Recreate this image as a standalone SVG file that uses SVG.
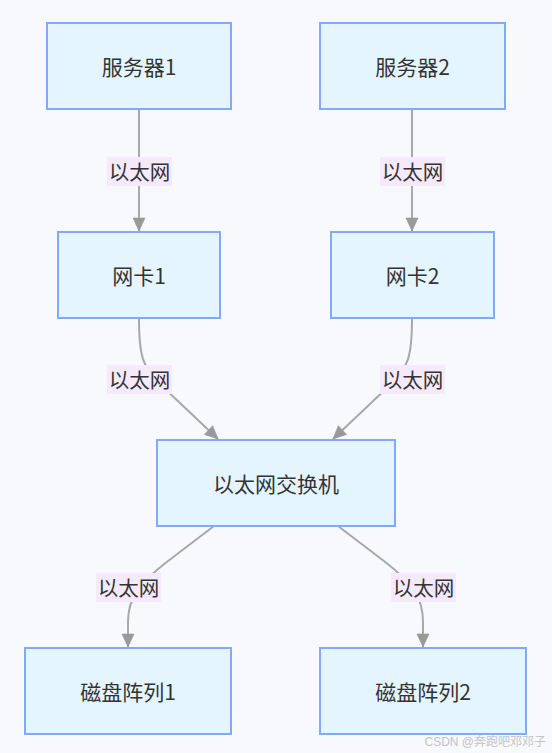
<svg xmlns="http://www.w3.org/2000/svg" width="552" height="753" viewBox="0 0 552 753">
<defs>
<style>
.node rect{fill:#e5f5ff;stroke:#80aaff;stroke-width:2}
.node text{font-family:"Noto Sans CJK SC","Noto Sans",sans-serif;font-size:21px;fill:#333;text-anchor:middle;dominant-baseline:central}
.edge{fill:none;stroke:#a8a8a8;stroke-width:2}
.lbl rect{fill:#f4eafc}
.lbl text{font-family:"Noto Sans CJK SC","Noto Sans",sans-serif;font-size:20.5px;fill:#333;text-anchor:middle;dominant-baseline:central}
</style>
<marker id="arr" viewBox="0 0 10 10" refX="10" refY="5" markerWidth="13" markerHeight="12" markerUnits="userSpaceOnUse" orient="auto" overflow="visible" preserveAspectRatio="none">
<path d="M0,0 L10,5 L0,10 z" fill="#999" stroke="#999" stroke-width="0.5"/>
</marker>
</defs>
<rect width="552" height="753" fill="#f8f9fc"/>
<g id="connectors">
<path class="edge" d="M139,109 L139,231" marker-end="url(#arr)"/>
<path class="edge" d="M412,109 L412,231" marker-end="url(#arr)"/>
<path class="edge" d="M139,318 C139,355 142,368 162,386 L218,439" marker-end="url(#arr)"/>
<path class="edge" d="M412,318 C412,355 409,368 389,386 L333,439" marker-end="url(#arr)"/>
<path class="edge" d="M214,526 L172,558 C136,585 128,600 128,622 L128,647" marker-end="url(#arr)"/>
<path class="edge" d="M338,526 L380,558 C416,585 423,600 423,622 L423,647" marker-end="url(#arr)"/>
<g class="lbl"><rect x="107" y="157" width="65" height="29"/><text x="139.5" y="171">以太网</text></g>
<g class="lbl"><rect x="380" y="157" width="65" height="29"/><text x="412.5" y="171">以太网</text></g>
<g class="lbl"><rect x="107" y="365" width="65" height="29"/><text x="139.5" y="379">以太网</text></g>
<g class="lbl"><rect x="380" y="365" width="65" height="29"/><text x="412.5" y="379">以太网</text></g>
<g class="lbl"><rect x="96" y="573" width="65" height="29"/><text x="128.5" y="587">以太网</text></g>
<g class="lbl"><rect x="391" y="573" width="65" height="29"/><text x="423.5" y="587">以太网</text></g>
</g>
<g id="server1" class="node"><rect x="47" y="23" width="184" height="86"/><text x="139" y="66">服务器1</text></g>
<g id="server2" class="node"><rect x="320" y="23" width="185" height="86"/><text x="412.5" y="66">服务器2</text></g>
<g id="nic1" class="node"><rect x="58" y="232" width="162" height="86"/><text x="139" y="275">网卡1</text></g>
<g id="nic2" class="node"><rect x="331" y="232" width="163" height="86"/><text x="412.5" y="275">网卡2</text></g>
<g id="switch" class="node"><rect x="157" y="440" width="238" height="86"/><text x="276" y="483">以太网交换机</text></g>
<g id="disk1" class="node"><rect x="25" y="648" width="206" height="86"/><text x="128" y="691">磁盘阵列1</text></g>
<g id="disk2" class="node"><rect x="320" y="648" width="206" height="86"/><text x="423" y="691">磁盘阵列2</text></g>
<text x="546" y="746" text-anchor="end" font-family="Liberation Sans,'Noto Sans CJK SC',sans-serif" font-size="12" fill="#c4c4c4">CSDN @奔跑吧邓邓子</text>
</svg>
